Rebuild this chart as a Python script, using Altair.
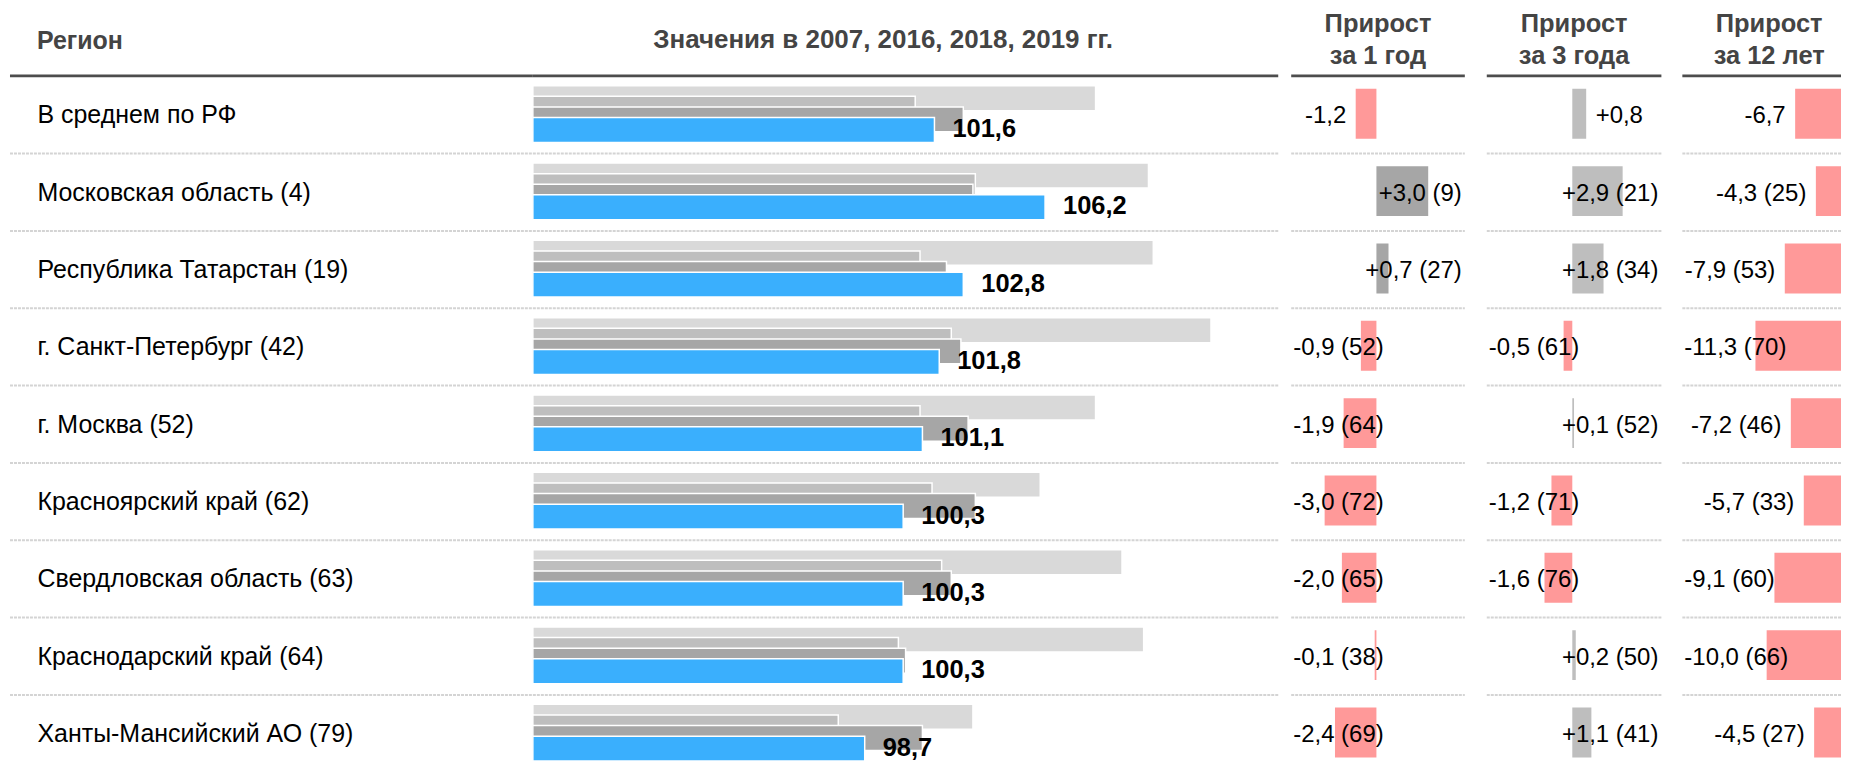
import altair as alt
import pandas as pd

# ---------------- data ----------------
names = ["В среднем по РФ", "Московская область", "Республика Татарстан",
         "г. Санкт-Петербург", "г. Москва", "Красноярский край",
         "Свердловская область", "Краснодарский край", "Ханты-Мансийский АО"]
ranks = [None, 4, 19, 42, 52, 62, 63, 64, 79]
years = ["2007", "2016", "2018", "2019"]
v2007 = [108.3, 110.5, 110.7, 113.1, 108.3, 106.0, 109.4, 110.3, 103.2]
v2016 = [100.8, 103.3, 101.0, 102.3, 101.0, 101.5, 101.9, 100.1, 97.6]
v2018 = [102.8, 103.2, 102.1, 102.7, 103.0, 103.3, 102.3, 100.4, 101.1]
v2019 = [101.6, 106.2, 102.8, 101.8, 101.1, 100.3, 100.3, 100.3, 98.7]
g1 = [-1.2, 3.0, 0.7, -0.9, -1.9, -3.0, -2.0, -0.1, -2.4]
r1 = [None, 9, 27, 52, 64, 72, 65, 38, 69]
g3 = [0.8, 2.9, 1.8, -0.5, 0.1, -1.2, -1.6, 0.2, 1.1]
r3 = [None, 21, 34, 61, 52, 71, 76, 50, 41]
g12 = [-6.7, -4.3, -7.9, -11.3, -7.2, -5.7, -9.1, -10.0, -4.5]
r12 = [None, 25, 53, 70, 46, 33, 60, 66, 27]

# ---------------- style ----------------
FONT = "Liberation Sans"
FS = 25          # region names
FS_G = 24        # growth labels
FS_V = 25.5      # value labels
H = 754
ROW_H = 77.5
Y0 = 67.6
HEAD_Y = 67.3
NEG = "#ff9999"
YEAR_COLORS = ["#d9d9d9", "#bebebe", "#a6a6a6", "#3aaffd"]
SEP_COLOR = "#d4d4d4"
HEAD_COLOR = "#444444"
GAP = 9.5
DY_LAB = 8.35
DY_VAL = 22.2

yscale = alt.Scale(domain=list(range(len(names))), range=[Y0, Y0 + ROW_H * len(names)],
                   paddingInner=0, paddingOuter=0)
Y = alt.Y("row:O", scale=yscale, axis=None)

CW = {"-": 0.333, "+": 0.584, ",": 0.278, " ": 0.278, "(": 0.333, ")": 0.333}


def text_w(s):
    return sum(CW.get(c, 0.556) for c in s) * FS_G


def fmt(v):
    sign = "+" if v > 0 else ("-" if v < 0 else "")
    return sign + f"{abs(v):.1f}".replace(".", ",")


one = pd.DataFrame({"k": [0]})


def head_rule(x0, x1):
    return alt.Chart(one).mark_rule(color="#4d4d4d", strokeWidth=2.8).encode(
        x=alt.value(x0), x2=alt.value(x1), y=alt.value(HEAD_Y))


sep_df = pd.DataFrame({"row": list(range(1, len(names)))})


def seps(x0, x1):
    return alt.Chart(sep_df).mark_rule(color=SEP_COLOR, strokeWidth=2, strokeDash=[3, 1]).encode(
        y=alt.Y("row:O", scale=yscale, axis=None, bandPosition=0),
        x=alt.value(x0), x2=alt.value(x1))


def head_text(txt, x, y, align, size):
    return alt.Chart(pd.DataFrame({"t": [txt]})).mark_text(
        font=FONT, fontSize=size, fontWeight="bold", color=HEAD_COLOR, align=align,
        baseline="alphabetic").encode(x=alt.value(x), y=alt.value(y), text="t:N")


main = pd.DataFrame({
    "row": list(range(len(names))),
    "label": [n if r is None else f"{n} ({r})" for n, r in zip(names, ranks)],
    "v2019": v2019,
    "lab2019": [f"{v:.1f}".replace(".", ",") for v in v2019],
})

# ---------------- panel 1: region names ----------------
W_L = 524
p_lab = alt.layer(
    head_rule(0, W_L),
    seps(0, W_L),
    head_text("Регион", 27, 40.2, "left", 25),
    alt.Chart(main).mark_text(font=FONT, fontSize=FS, color="#000000", align="left",
                              baseline="alphabetic", dy=DY_LAB).encode(
        x=alt.value(27.5), y=Y, text="label:N"),
).properties(width=W_L, height=H)

# ---------------- panel 2: value bars ----------------
W_B = 747
K_B = 24.1
X_MIN = 84.9
bx = alt.Scale(domain=[X_MIN, X_MIN + W_B / K_B], nice=False, zero=False)
long_rows = []
for yr, arr in zip(years, [v2007, v2016, v2018, v2019]):
    for i, v in enumerate(arr):
        long_rows.append({"row": i, "year": yr, "v": v})
long_df = pd.DataFrame(long_rows)

off_domain = ["_top"] + years + ["_bottom"]
bars = alt.Chart(long_df).mark_bar(height=25, stroke="white", strokeWidth=1.5, clip=True).encode(
    x=alt.X("v:Q", scale=bx, axis=None),
    x2=alt.datum(X_MIN),
    y=Y,
    yOffset=alt.YOffset("year:O", scale=alt.Scale(domain=off_domain, paddingInner=0,
                                                  paddingOuter=0.648, align=0.437)),
    color=alt.Color("year:N", scale=alt.Scale(domain=years, range=YEAR_COLORS), legend=None),
)
val_lab = alt.Chart(main).mark_text(font=FONT, fontSize=FS_V, fontWeight="bold", color="#000000",
                                    align="left", baseline="alphabetic", dx=18, dy=DY_VAL).encode(
    x=alt.X("v2019:Q", scale=bx, axis=None), y=Y, text="lab2019:N")

p_bars = alt.layer(
    head_rule(0, W_B),
    seps(0, W_B),
    head_text("Значения в 2007, 2016, 2018, 2019 гг.", 351, 39.6, "center", 26),
    bars,
    val_lab,
).properties(width=W_B, height=H)


# ---------------- growth panels ----------------
def growth_panel(vals, rks, W, x0, zero_px, k, pos_color, line2, hx):
    dom = [-zero_px / k, (W - zero_px) / k]
    xs = alt.Scale(domain=dom, nice=False, zero=False)
    base_val = min(0.0, dom[1])
    rows = []
    for i, (v, r) in enumerate(zip(vals, rks)):
        lab = fmt(v) + ("" if r is None else " (" + str(r) + ")")
        w = text_w(lab)
        if v < 0:
            end = zero_px + v * k - GAP
            mode = "left" if end - w < x0 + 2 else "right"
        else:
            start = zero_px + v * k + GAP
            mode = "rclamp" if start + w > W - 3 else "after"
        rows.append({"row": i, "g": v, "lab": lab, "mode": mode})
    df = pd.DataFrame(rows)
    base = alt.Chart(df)
    X = alt.X("g:Q", scale=xs, axis=None)
    gbars = base.mark_bar(height=50, yOffset=-1.15, clip=True).encode(
        x=X, x2=alt.datum(base_val), y=Y,
        color=alt.condition(alt.datum.g < 0, alt.value(NEG), alt.value(pos_color)))
    kw = dict(font=FONT, fontSize=FS_G, baseline="alphabetic", dy=DY_LAB, color="#000000")
    t_right = base.transform_filter("datum.mode == 'right'").mark_text(
        align="right", dx=-GAP, **kw).encode(x=X, y=Y, text="lab:N")
    t_after = base.transform_filter("datum.mode == 'after'").mark_text(
        align="left", dx=GAP, **kw).encode(x=X, y=Y, text="lab:N")
    t_left = base.transform_filter("datum.mode == 'left'").mark_text(
        align="left", **kw).encode(x=alt.value(x0 + 2), y=Y, text="lab:N")
    t_rc = base.transform_filter("datum.mode == 'rclamp'").mark_text(
        align="right", **kw).encode(x=alt.value(W - 3), y=Y, text="lab:N")
    return alt.layer(
        head_rule(x0, W),
        seps(x0, W),
        head_text("Прирост", hx, 23.3, "center", 25.5),
        head_text(line2, hx, 55.3, "center", 25.5),
        gbars, t_right, t_after, t_left, t_rc,
    ).properties(width=W, height=H)


p_g1 = growth_panel(g1, r1, 187, 13, 98.4, 17.3, "#a6a6a6", "за 1 год", 100)
p_g3 = growth_panel(g3, r3, 197, 22, 107.7, 17.4, "#bebebe", "за 3 года", 109.5)
p_g12 = growth_panel(g12, r12, 180, 21, 192, 8.65, "#d9d9d9", "за 12 лет", 108)

chart = alt.hconcat(p_lab, p_bars, p_g1, p_g3, p_g12, spacing=0, bounds="flush").resolve_scale(
    x="independent", y="independent", color="independent"
).properties(padding=0).configure_view(stroke=None)

chart.save("out.html", embed_options={"renderer": "svg", "actions": False})
